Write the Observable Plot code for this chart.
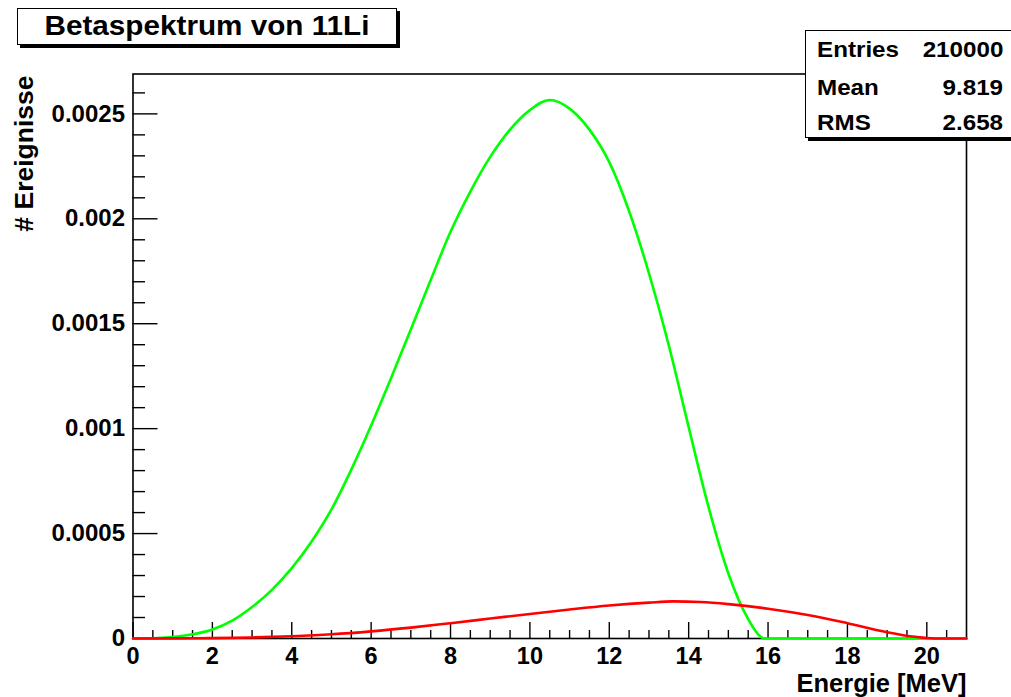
<!DOCTYPE html>
<html><head><meta charset="utf-8">
<script src="https://cdn.jsdelivr.net/npm/d3@7"></script>
<script src="https://cdn.jsdelivr.net/npm/@observablehq/plot@0.6"></script>
<style>
html,body{margin:0;padding:0;background:#fff;}
#wrap{position:relative;width:1011px;height:697px;overflow:hidden;font-family:"Liberation Sans",Arial,Helvetica,sans-serif;font-weight:bold;color:#000;}
#chart{position:absolute;left:0;top:0;}
.box{position:absolute;background:#fff;border:1.5px solid #000;box-shadow:3px 3px 0 #000;box-sizing:border-box;}
#title{left:17px;top:8px;width:380px;height:37px;}
#title span{position:absolute;left:0;right:0;top:0;line-height:34px;text-align:center;font-size:28px;transform:scaleX(1.06);}
#stats{left:805px;top:30px;width:230px;height:108px;}
.row{position:absolute;left:0;width:197px;height:36px;line-height:36px;font-size:22px;white-space:nowrap;}
.row .k{position:absolute;left:11px;transform:scaleX(1.1);transform-origin:left center;}
.row .v{position:absolute;right:0;transform:scaleX(1.1);transform-origin:right center;}
</style>
</head><body>
<div id="wrap">
  <div id="chart"></div>
  <div class="box" id="title"><span id="titleText"></span></div>
  <div class="box" id="stats"></div>
</div>
<script>
// ---- data ----
const titleText = "Betaspektrum von 11Li";
const xLabel = "Energie [MeV]";
const yLabel = "# Ereignisse";
const statKeys = ["Entries", "Mean", "RMS"];
const statValues = ["210000", "9.819", "2.658"];

const xMajor = [0, 2, 4, 6, 8, 10, 12, 14, 16, 18, 20];
const xTickLabels = ["0", "2", "4", "6", "8", "10", "12", "14", "16", "18", "20"];
const xMinor = [0.5, 1, 1.5, 2.5, 3, 3.5, 4.5, 5, 5.5, 6.5, 7, 7.5, 8.5, 9, 9.5, 10.5, 11, 11.5,
  12.5, 13, 13.5, 14.5, 15, 15.5, 16.5, 17, 17.5, 18.5, 19, 19.5, 20.5];
const yMajor = [0, 0.0005, 0.001, 0.0015, 0.002, 0.0025];
const yTickLabels = ["0", "0.0005", "0.001", "0.0015", "0.002", "0.0025"];
const yMinor = [0.0001, 0.0002, 0.0003, 0.0004, 0.0006, 0.0007, 0.0008, 0.0009, 0.0011, 0.0012,
  0.0013, 0.0014, 0.0016, 0.0017, 0.0018, 0.0019, 0.0021, 0.0022, 0.0023, 0.0024, 0.0026];

// green spectrum (endpoint ~15.9 MeV)
const greenE = [0, 0.5, 1, 1.5, 2, 2.5, 3, 3.5, 4, 4.5, 5, 5.5, 6, 6.5, 7, 7.5, 8, 8.5, 9, 9.5, 10,
  10.5, 11, 11.5, 12, 12.5, 13, 13.5, 14, 14.5, 15, 15.5, 15.75, 15.9, 16.5, 21];
const greenV = [0, 0.000001, 0.000007, 0.00002, 0.000043, 0.000085, 0.00015, 0.000232, 0.000335,
  0.000462, 0.000615, 0.000805, 0.001015, 0.00124, 0.001473, 0.001708, 0.001938, 0.00213,
  0.002295, 0.002425, 0.002518, 0.002566, 0.002525, 0.002425, 0.00227, 0.002036, 0.00174,
  0.001396, 0.001007, 0.000627, 0.00031, 0.000092, 0.00002, 0, 0, 0];

// red spectrum (endpoint ~20.2 MeV)
const redE = [0, 1, 2, 3, 4, 5, 6, 7, 8, 9, 10, 11, 12, 13, 13.6, 14.3, 15, 16, 17, 18, 19, 19.7, 20.2, 21];
const redV = [0, 0.0000005, 0.000002, 0.000005, 0.000011, 0.00002, 0.000034, 0.000052, 0.000073,
  0.000095, 0.000117, 0.000138, 0.000157, 0.000171, 0.000177, 0.000174, 0.000164, 0.000142,
  0.000112, 0.000073, 0.00003, 0.000008, 0, 0];

const green = greenE.map((e, i) => ({E: e, v: greenV[i]}));
const red = redE.map((e, i) => ({E: e, v: redV[i]}));

const font = '"Liberation Sans", Arial, Helvetica, sans-serif';

const chart = Plot.plot({
  width: 1011,
  height: 697,
  marginLeft: 132.5,
  marginRight: 45,
  marginTop: 73.5,
  marginBottom: 59,
  x: {domain: [0, 21], label: null},
  y: {domain: [0, 0.00269], label: null},
  style: {fontFamily: font, fontWeight: "bold", fontSize: "24px", background: "#fff", color: "#000", overflow: "visible"},
  marks: [
    Plot.frame({stroke: "#000", strokeWidth: 1.6}),
    Plot.axisX({ticks: xMinor, tickSize: -8, fill: "none", label: null, strokeWidth: 1.4}),
    Plot.axisX({ticks: xMajor, tickSize: -16, fill: "none", label: null, strokeWidth: 1.4}),
    Plot.axisY({ticks: yMinor, tickSize: -12.5, fill: "none", label: null, strokeWidth: 1.4}),
    Plot.axisY({ticks: yMajor, tickSize: -25, fill: "none", label: null, strokeWidth: 1.4}),
    Plot.axisX({ticks: xMajor, tickSize: 0, tickPadding: 9, label: null, fontSize: 23.5,
      tickFormat: d => xTickLabels[xMajor.indexOf(d)]}),
    Plot.axisY({ticks: yMajor, tickSize: 0, tickPadding: 8, label: null, fontSize: 24,
      tickFormat: d => yTickLabels[yMajor.indexOf(d)]}),
    Plot.line(green, {x: "E", y: "v", stroke: "#00ff00", strokeWidth: 2.6, curve: "monotone-x"}),
    Plot.line(red, {x: "E", y: "v", stroke: "#ff0000", strokeWidth: 2.6, curve: "monotone-x"}),
    Plot.text([xLabel], {frameAnchor: "bottom-right", text: d => d, textAnchor: "end", lineAnchor: "bottom",
      dy: 53, fontSize: 25.5, fontWeight: "bold"}),
    Plot.text([yLabel], {frameAnchor: "top-left", text: d => d, textAnchor: "end", lineAnchor: "middle",
      rotate: -90, dx: -108.5, dy: 1.5, fontSize: 26.5, fontWeight: "bold"})
  ]
});
document.getElementById("chart").appendChild(chart);

document.getElementById("titleText").textContent = titleText;
const stats = document.getElementById("stats");
const rowTops = [1, 39, 74];
statKeys.forEach((k, i) => {
  const row = document.createElement("div");
  row.className = "row";
  row.style.top = rowTops[i] + "px";
  const a = document.createElement("span"); a.className = "k"; a.textContent = k;
  const b = document.createElement("span"); b.className = "v"; b.textContent = statValues[i];
  row.appendChild(a); row.appendChild(b);
  stats.appendChild(row);
});
</script>
</body></html>
